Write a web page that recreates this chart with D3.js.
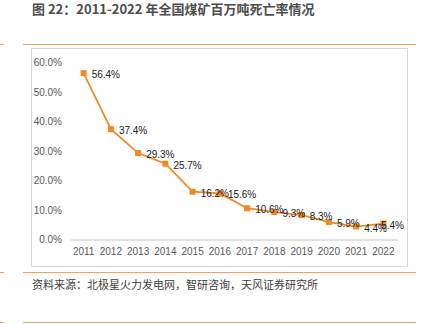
<!DOCTYPE html>
<html>
<head>
<meta charset="utf-8">
<script src="https://cdn.jsdelivr.net/npm/d3@7"></script>
<style>
  body { margin: 0; background: #fff; }
  svg text { font-family: "Liberation Sans", Arial, "Noto Sans CJK SC", sans-serif; }
  .cjk { font-family: "Noto Sans CJK SC", sans-serif; }
</style>
</head>
<body>
<div id="chart"></div>
<script>
// Coal mine deaths per million tonnes, 2011-2022
var years = ["2011", "2012", "2013", "2014", "2015", "2016", "2017", "2018", "2019", "2020", "2021", "2022"];
var deathRate = [56.4, 37.4, 29.3, 25.7, 16.2, 15.6, 10.6, 9.3, 8.3, 5.9, 4.4, 5.4];
var yTicks = [0, 10, 20, 30, 40, 50, 60];

var svgWidth = 425;
var svgHeight = 324;

var svg = d3.select("#chart")
  .append("svg")
  .attr("width", svgWidth)
  .attr("height", svgHeight);

var orange = "#f4a15d";

// Title
svg.append("text")
  .attr("class", "cjk")
  .attr("x", 32)
  .attr("y", 14)
  .attr("font-size", 13)
  .attr("font-weight", "bold")
  .attr("fill", "#4d4d4d")
  .text("图 22：2011-2022 年全国煤矿百万吨死亡率情况");

// Orange rules above and below the figure
[44.5, 272.5, 322.5].forEach(function(y) {
  svg.append("line").attr("x1", 0).attr("x2", 4).attr("y1", y).attr("y2", y)
    .attr("stroke", orange).attr("stroke-width", 1);
  svg.append("line").attr("x1", 23).attr("x2", 416).attr("y1", y).attr("y2", y)
    .attr("stroke", orange).attr("stroke-width", 1);
});

// Chart frame
svg.append("rect")
  .attr("x", 31.5).attr("y", 48.5)
  .attr("width", 376).attr("height", 218)
  .attr("fill", "#fff")
  .attr("stroke", "#d9d9d9");

// Source note
svg.append("text")
  .attr("class", "cjk")
  .attr("x", 32)
  .attr("y", 289)
  .attr("font-size", 11)
  .attr("fill", "#404040")
  .text("资料来源：北极星火力发电网，智研咨询，天风证券研究所");

// Scales
var xScale = d3.scaleBand()
  .domain(years)
  .range([70, 397]);

var yScale = d3.scaleLinear()
  .domain([0, 60])
  .range([239.5, 62.5]);

var chartGroup = svg.append("g");

// Y axis labels
var leftAxis = d3.axisLeft(yScale)
  .tickValues(yTicks)
  .tickSize(0)
  .tickPadding(0)
  .tickFormat(function(d) { return d.toFixed(1) + "%"; });

var yAxisG = chartGroup.append("g")
  .attr("transform", "translate(62, 0)")
  .call(leftAxis);
yAxisG.select(".domain").remove();
yAxisG.selectAll("text").attr("font-size", 10).attr("fill", "#595959")
  .attr("font-family", "Liberation Sans, Arial, sans-serif");

// X axis
var bottomAxis = d3.axisBottom(xScale).tickSize(0).tickPadding(8);
var xAxisG = chartGroup.append("g")
  .attr("transform", "translate(0, 239.5)")
  .call(bottomAxis);
xAxisG.select(".domain").attr("stroke", "#d9d9d9").attr("stroke-width", 1.5);
xAxisG.selectAll("text").attr("font-size", 10).attr("fill", "#595959")
  .attr("font-family", "Liberation Sans, Arial, sans-serif");

var lineColor = "#f08a24";

var drawLine = d3.line()
  .x(function(d, i) { return xScale(years[i]) + xScale.bandwidth() / 2; })
  .y(function(d) { return yScale(d); });

chartGroup.append("path")
  .attr("d", drawLine(deathRate))
  .attr("fill", "none")
  .attr("stroke", lineColor)
  .attr("stroke-width", 1.75);

// Square markers
chartGroup.selectAll(".marker")
  .data(deathRate)
  .enter()
  .append("rect")
  .attr("class", "marker")
  .attr("x", function(d, i) { return xScale(years[i]) + xScale.bandwidth() / 2 - 3; })
  .attr("y", function(d) { return yScale(d) - 3; })
  .attr("width", 6)
  .attr("height", 6)
  .attr("fill", lineColor);

// Value labels to the right of each point, kept inside the frame
var frameRight = 404;
chartGroup.selectAll(".valueLabel")
  .data(deathRate)
  .enter()
  .append("text")
  .attr("class", "valueLabel")
  .attr("y", function(d) { return yScale(d) + 5; })
  .attr("font-size", 10)
  .attr("fill", "#1a1a1a")
  .text(function(d) { return d.toFixed(1) + "%"; })
  .attr("x", function(d, i) {
    var x = xScale(years[i]) + xScale.bandwidth() / 2 + 8;
    var w = this.getComputedTextLength();
    return Math.min(x, frameRight - w);
  });
</script>
</body>
</html>
